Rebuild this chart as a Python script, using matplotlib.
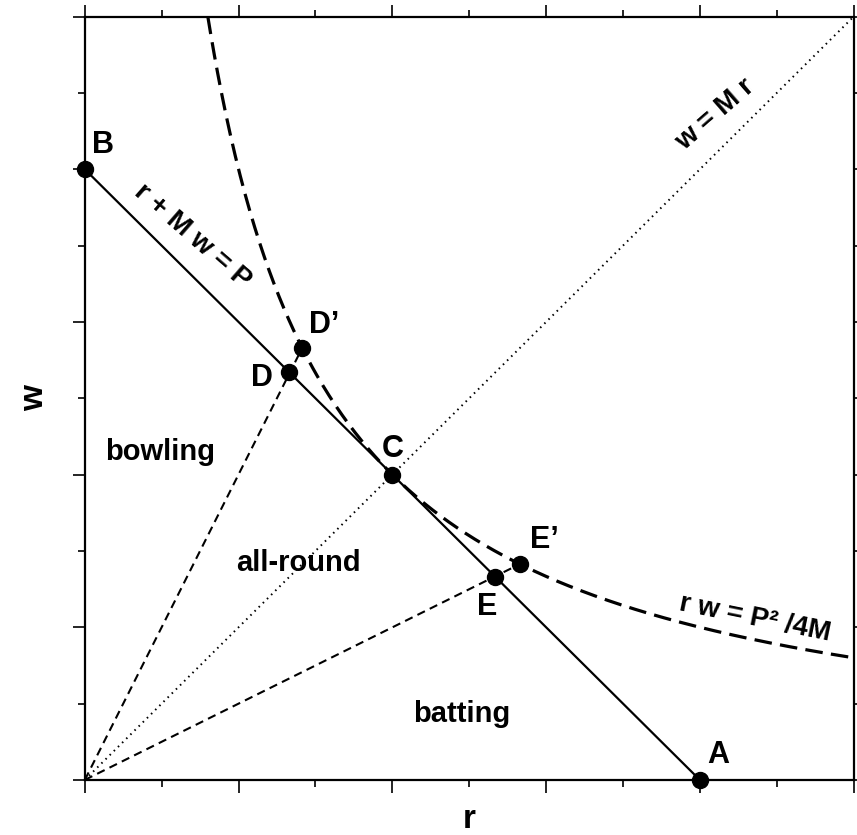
import matplotlib
matplotlib.use("Agg")
import matplotlib.pyplot as plt
import numpy as np

plt.rcParams['font.family'] = ['Liberation Sans', 'DejaVu Sans']
plt.rcParams['font.weight'] = 'bold'

# model constants: line r + M w = P, hyperbola r w = P^2/4M
M = 1.0
P = 4.0

# labelled points
names = ['A', 'B', 'C', 'D', 'D’', 'E', 'E’']
r_pts = [4.0, 0.0, 2.0, 1.33, 1.414, 2.67, 2.83]
w_pts = [0.0, 4.0, 2.0, 2.67, 2.83, 1.33, 1.414]

# label positions (data coords)
lab_r = [4.12, 0.12, 2.0, 1.15, 1.56, 2.62, 2.99]
lab_w = [0.16, 4.16, 2.17, 2.63, 2.98, 1.13, 1.57]

regions = ['bowling', 'all-round', 'batting']
reg_r = [0.49, 1.39, 2.45]
reg_w = [2.15, 1.42, 0.43]

fig = plt.figure(figsize=(8.57, 8.35), dpi=100)
ax = fig.add_axes([0.099, 0.066, 0.897, 0.914])

# hyperbola r w = P^2/4M
rh = np.linspace(P**2 / (4 * M) / 5.0, 5.0, 400)
ax.plot(rh, P**2 / (4 * M) / rh, color='black', lw=2.3, dashes=(5.5, 2.6))

# line r + M w = P
ax.plot([P, 0], [0, P / M], color='black', lw=1.6)

# w = M r
ax.plot([0, 5], [0, 5 * M], color='black', lw=1.4, ls=(0, (0.8, 2.2)))

# rays from origin through D and E to D', E'
ax.plot([0, r_pts[4]], [0, w_pts[4]], color='black', lw=1.5, dashes=(4, 2.6))
ax.plot([0, r_pts[6]], [0, w_pts[6]], color='black', lw=1.5, dashes=(4, 2.6))

ax.plot(r_pts, w_pts, 'o', color='black', ms=11.5, clip_on=False, zorder=5)

for n, x, y in zip(names, lab_r, lab_w):
    ax.text(x, y, n, fontsize=22, fontweight='bold', ha='center', va='center')

for n, x, y in zip(regions, reg_r, reg_w):
    ax.text(x, y, n, fontsize=21, fontweight='bold', ha='center', va='center')

ax.text(0.70, 3.56, 'r + M w = P', fontsize=20, fontweight='bold',
        rotation=-41, ha='center', va='center')
ax.text(4.1, 4.36, 'w = M r', fontsize=20, fontweight='bold',
        rotation=41, ha='center', va='center')
ax.text(4.36, 1.06, 'r w = P² /4M', fontsize=20, fontweight='bold',
        rotation=-11.5, ha='center', va='center')

ax.set_xlim(0, 5)
ax.set_ylim(0, 5)
ax.set_xticks(np.arange(0, 5.1, 1))
ax.set_yticks(np.arange(0, 5.1, 1))
ax.set_xticks(np.arange(0.5, 5, 1), minor=True)
ax.set_yticks(np.arange(0.5, 5, 1), minor=True)
ax.tick_params(which='both', direction='out', top=True, right=True,
               labelbottom=False, labelleft=False, width=1.2)
ax.tick_params(which='major', length=9)
ax.tick_params(which='minor', length=5)
for s in ax.spines.values():
    s.set_linewidth(1.6)

ax.set_xlabel('r', fontsize=24, fontweight='bold', labelpad=8)
ax.set_ylabel('w', fontsize=24, fontweight='bold', labelpad=16)

fig.savefig('out.png', dpi=100)
